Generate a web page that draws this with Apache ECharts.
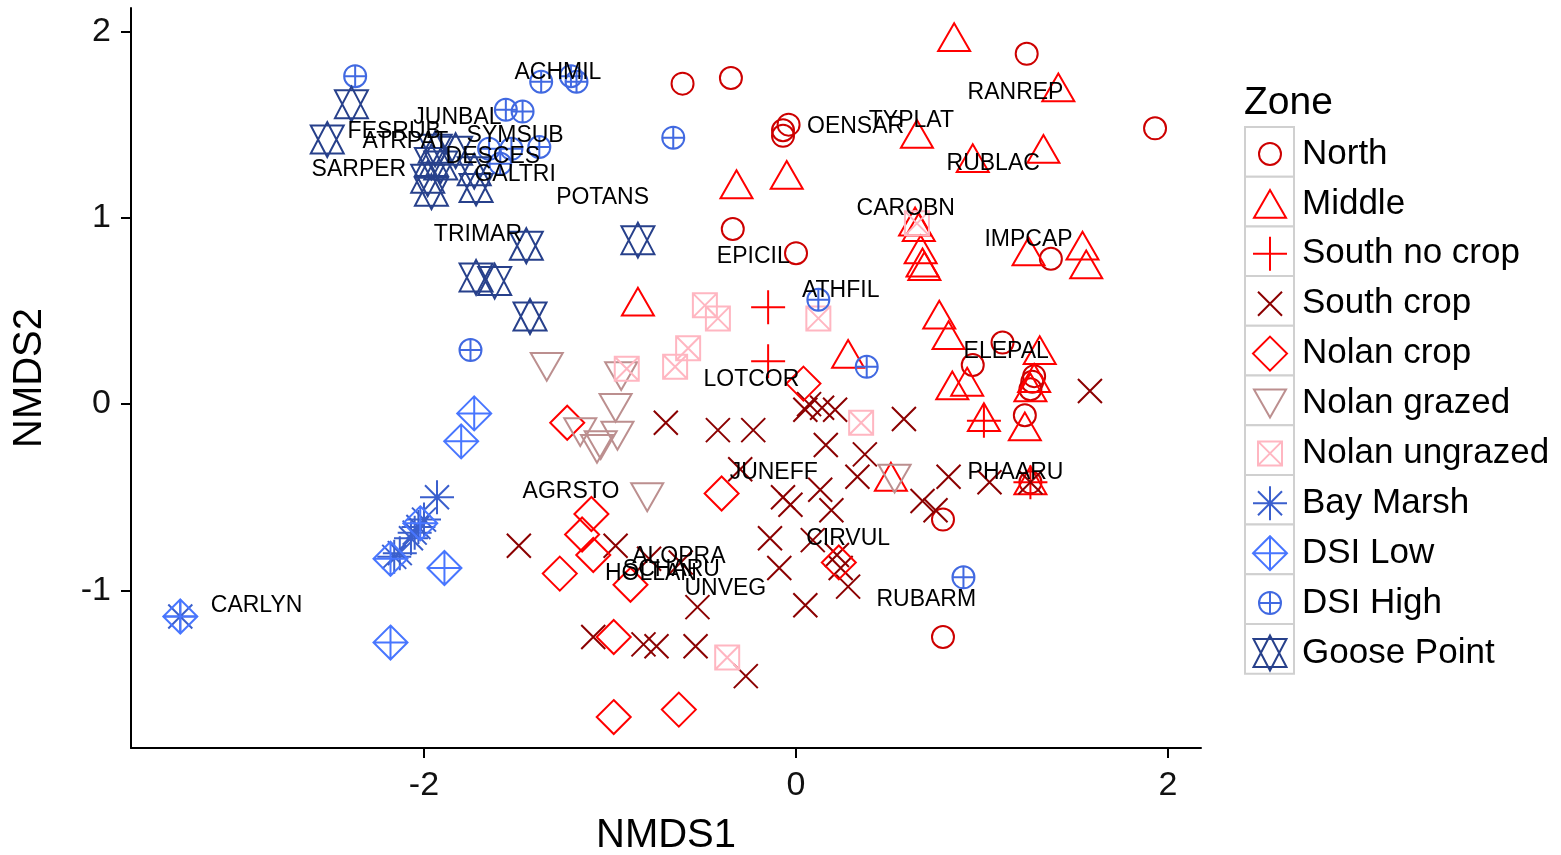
<!DOCTYPE html>
<html>
<head>
<meta charset="utf-8">
<script src="https://cdn.jsdelivr.net/npm/echarts@6/dist/echarts.min.js"></script>
<style>
  html, body { margin: 0; padding: 0; background: #fff; }
  #chart { width: 1561px; height: 855px; }
</style>
</head>
<body>
<div id="chart"></div>
<script>
// NMDS site scores by zone, plus species centroids
const zones = ['North', 'Middle', 'South no crop', 'South crop', 'Nolan crop', 'Nolan grazed',
  'Nolan ungrazed', 'Bay Marsh', 'DSI Low', 'DSI High', 'Goose Point'];

const north = [[-0.61,1.72],[-0.35,1.75],[1.24,1.88],[1.93,1.48],[-0.04,1.50],[-0.07,1.47],[-0.07,1.44],
  [-0.34,0.94],[0.00,0.81],[1.37,0.78],[1.11,0.33],[0.95,0.21],[1.28,0.15],[1.27,0.12],[1.26,0.08],
  [1.23,-0.06],[0.79,-0.62],[0.79,-1.25],[1.26,-0.42]];
const middle = [[0.85,1.97],[1.41,1.70],[0.65,1.45],[0.95,1.32],[1.33,1.37],[-0.32,1.18],[-0.05,1.23],
  [0.64,0.98],[0.66,0.95],[0.67,0.83],[0.68,0.76],[0.69,0.74],[1.25,0.82],[1.54,0.85],[1.56,0.75],
  [-0.85,0.55],[0.28,0.27],[0.77,0.48],[0.82,0.37],[0.84,0.10],[0.92,0.12],[1.31,0.29],[1.28,0.14],
  [1.26,0.09],[1.01,-0.07],[1.23,-0.12],[0.51,-0.39],[1.26,-0.41]];
const southNoCrop = [[-0.15,0.52],[-0.15,0.23],[1.01,-0.09],[1.26,-0.42]];
const southCrop = [[-0.70,-0.10],[-0.42,-0.14],[-0.23,-0.14],[0.05,-0.03],[0.07,0.00],[0.14,-0.02],
  [0.21,-0.03],[0.58,-0.08],[0.16,-0.22],[0.37,-0.27],[0.33,-0.39],[-0.30,-0.35],[-0.07,-0.50],
  [-0.03,-0.54],[0.13,-0.46],[0.19,-0.57],[0.68,-0.52],[0.75,-0.57],[0.82,-0.39],[1.04,-0.42],
  [1.58,0.07],[1.26,-0.42],[-1.49,-0.76],[-0.97,-0.76],[-0.79,-0.83],[-0.62,-0.85],[-0.53,-1.09],
  [-1.09,-1.25],[-0.82,-1.29],[-0.75,-1.30],[-0.54,-1.30],[-0.27,-1.46],[-0.14,-0.72],[-0.09,-0.88],
  [0.05,-1.08],[0.09,-0.73],[0.22,-0.81],[0.24,-0.88],[0.28,-0.98]];
const nolanCrop = [[0.04,0.11],[-1.23,-0.10],[-0.40,-0.48],[-1.10,-0.59],[-1.15,-0.70],[-1.09,-0.81],
  [-1.27,-0.91],[-0.89,-0.97],[-0.98,-1.25],[-0.98,-1.68],[-0.63,-1.64],[0.23,-0.85]];
const nolanGrazed = [[-1.34,0.20],[-0.94,0.15],[-0.97,-0.02],[-0.96,-0.17],[-1.16,-0.15],[-1.07,-0.24],
  [-1.05,-0.22],[-0.80,-0.50],[0.53,-0.40]];
const nolanUngrazed = [[-0.49,0.53],[-0.42,0.46],[-0.58,0.30],[-0.65,0.20],[-0.91,0.19],[0.12,0.46],
  [0.35,-0.10],[0.65,0.97],[-0.37,-1.36]];
const bayMarsh = [[-1.93,-0.50],[-2.00,-0.62],[-2.03,-0.66],[-2.05,-0.69],[-2.07,-0.72],[-2.13,-0.80],
  [-2.16,-0.82],[-3.31,-1.14]];
const dsiLow = [[-1.73,-0.05],[-1.80,-0.20],[-2.02,-0.64],[-2.18,-0.83],[-1.89,-0.88],[-3.31,-1.14],
  [-2.18,-1.28]];
const dsiHigh = [[-2.37,1.76],[-1.37,1.73],[-1.21,1.76],[-1.18,1.73],[-1.56,1.58],[-1.47,1.57],
  [-0.66,1.43],[-1.65,1.37],[-1.53,1.37],[-1.38,1.38],[-1.59,1.29],[-1.75,0.29],[0.12,0.56],
  [0.38,0.20],[0.90,-0.93]];
const goosePoint = [[-2.39,1.61],[-2.52,1.42],[-1.94,1.37],[-1.83,1.36],[-1.96,1.30],[-1.91,1.28],
  [-1.98,1.21],[-1.96,1.14],[-1.73,1.25],[-1.72,1.16],[-0.85,0.88],[-1.45,0.85],[-1.72,0.68],
  [-1.62,0.66],[-1.43,0.47]];

const speciesNames = ['ACHMIL','RANREP','JUNBAL','FESRUB','SYMSUB','ATRPAT','TYPLAT','OENSAR','RUBLAC',
  'SARPER','DESCES','GALTRI','POTANS','CAROBN','TRIMAR','IMPCAP','EPICIL','ATHFIL','ELEPAL','LOTCOR',
  'JUNEFF','PHAARU','AGRSTO','CIRVUL','ALOPRA','SCHARU','HOLLAN','UNVEG','RUBARM','CARLYN'];
const speciesX = [-1.28,1.18,-1.82,-2.16,-1.51,-2.10,0.62,0.32,1.06,-2.35,-1.63,-1.51,-1.04,0.59,-1.71,
  1.25,-0.23,0.24,1.13,-0.24,-0.12,1.18,-1.21,0.28,-0.63,-0.67,-0.78,-0.38,0.70,-2.90];
const speciesY = [1.78,1.67,1.54,1.46,1.44,1.41,1.52,1.49,1.29,1.26,1.33,1.23,1.11,1.05,0.91,0.88,0.79,
  0.61,0.28,0.13,-0.37,-0.37,-0.47,-0.72,-0.82,-0.89,-0.91,-0.99,-1.05,-1.08];

const xTicks = [-2, 0, 2];
const yTicks = [-1, 0, 1, 2];

// Outline glyphs drawn in a common 36x36 box so plot and legend share one scale
const BOX = ' M-18 -18 M18 18';
const CIRC = 'M11 0A11 11 0 1 1 -11 0A11 11 0 1 1 11 0Z';
const PLUS17 = 'M-17 0L17 0M0 -17L0 17';
const CROSS12 = 'M-12 -12L12 12M-12 12L12 -12';
const shapes = {
  circle: CIRC,
  triUp: 'M0 -13.9L16 13.9L-16 13.9Z',
  plus: PLUS17,
  cross: CROSS12,
  diamond: 'M0 -17L17 0L0 17L-17 0Z',
  triDown: 'M0 13.9L16 -13.9L-16 -13.9Z',
  squareCross: 'M-12 -12L12 -12L12 12L-12 12Z' + CROSS12,
  asterisk: PLUS17 + CROSS12,
  diamondPlus: 'M0 -17L17 0L0 17L-17 0Z' + PLUS17,
  circlePlus: CIRC + 'M-11 0L11 0M0 -11L0 11',
  hexagram: 'M0 -17.5L16.5 14L-16.5 14ZM0 17.5L16.5 -14L-16.5 -14Z'
};
const sym = k => 'path://' + shapes[k] + BOX;

const zoneData = [north, middle, southNoCrop, southCrop, nolanCrop, nolanGrazed, nolanUngrazed,
  bayMarsh, dsiLow, dsiHigh, goosePoint];
const zoneShapes = ['circle','triUp','plus','cross','diamond','triDown','squareCross','asterisk',
  'diamondPlus','circlePlus','hexagram'];
const zoneColors = ['#CD0000','#FF0000','#FF0000','#8B0000','#FF0000','#BC8F8F','#FFB6C1',
  '#3A5FCD','#4876FF','#4169E1','#27408B'];

const FONT = 'Liberation Sans, Arial, sans-serif';

const series = zones.map((z, i) => ({
  type: 'scatter',
  name: z,
  data: zoneData[i],
  symbol: sym(zoneShapes[i]),
  symbolSize: 36,
  z: 2 + i * 0.01,
  itemStyle: { color: 'rgba(0,0,0,0)', borderColor: zoneColors[i], borderWidth: 2, opacity: 1 },
  emphasis: { disabled: true }
}));

series.push({
  type: 'scatter',
  name: 'species',
  data: speciesNames.map((n, i) => ({ name: n, value: [speciesX[i], speciesY[i]] })),
  symbolSize: 1,
  z: 5,
  itemStyle: { color: 'rgba(0,0,0,0)' },
  label: {
    show: true, position: 'inside', formatter: '{b}', opacity: 1,
    color: '#000', textBorderWidth: 0, fontSize: 23, fontFamily: FONT
  },
  emphasis: { disabled: true }
});

// legend key frames
const keyFrames = zones.map((z, i) => ({
  type: 'rect',
  shape: { x: 1245, y: 127 + i * 49.7, width: 49, height: 49.7 },
  style: { fill: '#fff', stroke: '#d0d0d0', lineWidth: 2 },
  z: 0
}));

const chart = echarts.init(document.getElementById('chart'), null, { renderer: 'canvas' });
chart.setOption({
  animation: false,
  backgroundColor: '#fff',
  textStyle: { fontFamily: FONT },
  title: {
    text: 'Zone', left: 1244, top: 84, padding: 0,
    textStyle: { fontSize: 39, fontWeight: 'normal', color: '#000', fontFamily: FONT }
  },
  legend: {
    data: zones, orient: 'vertical', left: 1251, top: 135, padding: 0,
    itemWidth: 36, itemHeight: 36, itemGap: 11.9, selectedMode: false,
    itemStyle: { borderWidth: 2 },
    textStyle: { fontSize: 35, color: '#000', fontFamily: FONT, padding: [0, 0, 0, 9] }
  },
  graphic: keyFrames,
  grid: { left: 131, top: 8, width: 1070, height: 740, containLabel: false, outerBoundsMode: 'none' },
  xAxis: {
    type: 'value', min: -3.575, max: 2.177,
    name: 'NMDS1', nameLocation: 'middle', nameGap: 68,
    nameTextStyle: { fontSize: 40, color: '#000', fontFamily: FONT },
    axisLine: { show: true, onZero: false, lineStyle: { color: '#000', width: 2 } },
    axisTick: { show: true, length: 10, customValues: xTicks, lineStyle: { color: '#000', width: 2 } },
    axisLabel: { customValues: xTicks, margin: 21, fontSize: 34, color: '#111', fontFamily: FONT },
    splitLine: { show: false }
  },
  yAxis: {
    type: 'value', min: -1.846, max: 2.126,
    name: 'NMDS2', nameLocation: 'middle', nameGap: 81,
    nameTextStyle: { fontSize: 40, color: '#000', fontFamily: FONT },
    axisLine: { show: true, onZero: false, lineStyle: { color: '#000', width: 2 } },
    axisTick: { show: true, length: 10, customValues: yTicks, lineStyle: { color: '#000', width: 2 } },
    axisLabel: { customValues: yTicks, margin: 20, fontSize: 34, color: '#111', fontFamily: FONT },
    splitLine: { show: false }
  },
  series: series
});
</script>
</body>
</html>
